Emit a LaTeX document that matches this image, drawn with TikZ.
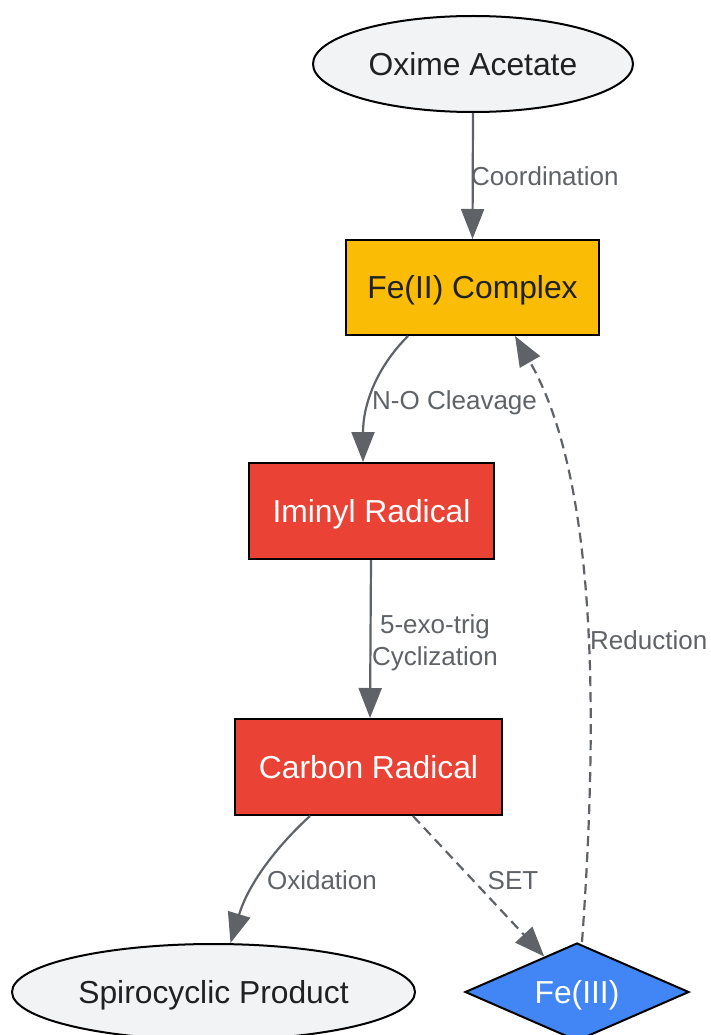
\documentclass[tikz,border=0pt]{standalone}
\usepackage{fontspec}
\setmainfont{Liberation Sans}
\usetikzlibrary{shapes.geometric,arrows.meta,calc}
\definecolor{ellfill}{HTML}{F2F3F5}
\definecolor{amber}{HTML}{FBBC05}
\definecolor{redbox}{HTML}{EA4335}
\definecolor{bluebox}{HTML}{4285F4}
\definecolor{edgecol}{HTML}{5F6368}
\definecolor{darktext}{HTML}{202124}
\begin{document}
\begin{tikzpicture}[x=1pt,y=-1pt,
  base/.style={draw=black,line width=2pt,inner sep=0pt,text height=22.5pt,text depth=0pt,font=\fontsize{31.8}{38}\selectfont},
  ellnode/.style={base,ellipse,fill=ellfill,text=darktext},
  amberbox/.style={base,rectangle,fill=amber,text=darktext},
  redrect/.style={base,rectangle,fill=redbox,text=white},
  bluedia/.style={base,diamond,fill=bluebox,text=white},
  conn/.style={draw=edgecol,line width=2.2pt,-{Triangle[length=30pt,width=23pt]}},
  dconn/.style={conn,dash pattern=on 10pt off 6pt},
  elabel/.style={text=edgecol,font=\fontsize{26}{32}\selectfont,inner sep=0pt,align=center,text depth=0pt}
]
\useasboundingbox (0,0) rectangle (711,1035);
\fill[white] (0,0) rectangle (711,1035);

\node[ellnode,minimum width=320pt,minimum height=96pt] (oxime) at (473,64) {Oxime Acetate};
\node[amberbox,minimum width=253pt,minimum height=95pt] (fe2) at (472.5,287.5) {Fe(II) Complex};
\node[redrect,minimum width=245pt,minimum height=96pt] (imin) at (371.5,511) {Iminyl Radical};
\node[redrect,minimum width=267pt,minimum height=96pt] (carb) at (368.5,767) {Carbon Radical};
\node[ellnode,minimum width=403pt,minimum height=96pt] (spiro) at (213.5,992) {Spirocyclic Product};
\node[bluedia,minimum width=224pt,minimum height=98pt,aspect=2.29] (fe3) at (577,992) {Fe(III)};

% Coordination
\draw[conn] (oxime.south) -- (fe2.north);
\node[elabel,anchor=west] (lcoord) at (471,176) {Coordination};

% N-O cleavage
\draw[conn] ([xshift=-64.5pt]fe2.south) .. controls (376,368) and (363,405) .. ([xshift=-8.5pt]imin.north);
\node[elabel,anchor=west] (lno) at (372,400) {N-O Cleavage};

% Cyclization
\draw[conn] ([xshift=-0.5pt]imin.south) -- ([xshift=1.5pt]carb.north);
\node[elabel] (lcyc) at (435,640) {5-exo-trig\\Cyclization};

% Oxidation
\draw[conn] ([xshift=-58.5pt]carb.south) .. controls (275,848) and (248,885) .. ([xshift=17pt]spiro.north);
\node[elabel] (lox) at (322,880) {Oxidation};

% SET
\draw[dconn] ([xshift=44.5pt]carb.south) -- ($(fe3.north)!0.29!(fe3.west)$);
\node[elabel] (lset) at (513,880) {SET};

% Reduction
\draw[dconn] ([xshift=5pt]fe3.north) .. controls (598,720) and (598,480) .. ([xshift=42.5pt]fe2.south);
\node[elabel,anchor=west] (lred) at (590,640) {Reduction};
\end{tikzpicture}
\end{document}
